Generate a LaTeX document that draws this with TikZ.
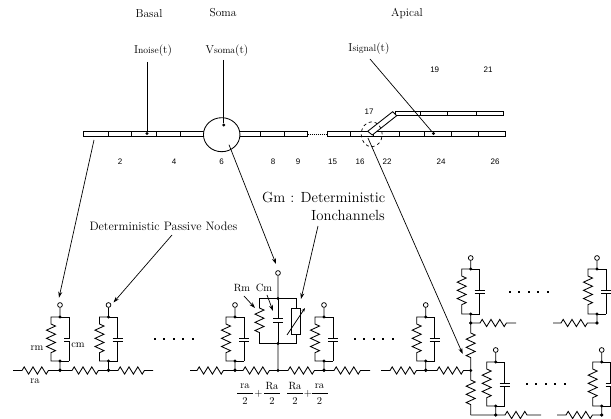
\documentclass[tikz,border=0pt]{standalone}
\usepackage{fontspec}
\newfontfamily\numfont{Liberation Sans}
\usetikzlibrary{decorations.pathmorphing,arrows.meta,shapes.geometric,calc}
\tikzset{
  wire/.style={line width=0.85pt,line join=miter},
  thin wire/.style={line width=0.7pt},
  ptr/.style={line width=0.7pt,-{Stealth[length=6pt,width=4pt]}},
  cablebox/.style={draw,line width=0.85pt,fill=white},
  lbl/.style={inner sep=0pt,font=\fontsize{11.5}{12}\selectfont},
  smlbl/.style={inner sep=0pt,font=\fontsize{10.5}{12}\selectfont},
  midlbl/.style={inner sep=0pt,font=\fontsize{12.2}{14}\selectfont},
  biglbl/.style={inner sep=0pt,font=\fontsize{14.7}{16}\selectfont},
  num/.style={inner sep=0pt,font=\numfont\fontsize{8}{9}\selectfont},
  jdot/.style={circle,fill=black,inner sep=0pt,minimum size=3.2pt},
  term/.style={circle,draw,fill=white,line width=0.75pt,inner sep=0pt,minimum size=4.8pt},
  zh/.style={decoration={zigzag,segment length=8.8pt,amplitude=3.6pt}},
  zv/.style={decoration={zigzag,segment length=8.2pt,amplitude=4.5pt}},
}
% horizontal rail resistor: from (x1,y) through zigzag x2..x3 to (x4,y)
\newcommand{\hres}[6]{%
  \coordinate (#1a) at (#2,#6); \coordinate (#1b) at (#3,#6);
  \coordinate (#1c) at (#4,#6); \coordinate (#1d) at (#5,#6);
  \draw[wire] (#1a) -- (#1b) decorate[zh]{-- (#1c)} -- (#1d);}
% RC unit: name, centre x, terminal y, top y, bottom y
\newcommand{\rcunit}[5]{%
  \coordinate (#1tp) at (#2,#4); \coordinate (#1bt) at (#2,#5+9);
  \coordinate (#1bb) at (#2,#5);
  \node[term] (#1o) at (#2,#3) {};
  \draw[wire] (#1o) -- (#1tp) -- ++(-9,0) coordinate (#1l1) -- ++(0,7) coordinate (#1l2)
    decorate[zv]{-- ++(0,#5-#4-15) coordinate (#1l3)}
    -- (#2-9,#5) -- (#1bb) -- (#1bt);
  \draw[wire] (#1tp) -- ++(9,0) -- ++(0,#5/2-#4/2-1) coordinate (#1c1);
  \draw[wire] (#2+9,#5) -- (#1bb);
  \draw[wire] (#2+9,#5) -- ++(0,-#5/2+#4/2+2) coordinate (#1c2);
  \draw[wire] ($(#1c1)+(-5,0)$) -- ($(#1c1)+(5,0)$);
  \draw[wire] ($(#1c2)+(-5,0)$) -- ($(#1c2)+(5,0)$);
  \node[jdot] at (#1tp) {}; \node[jdot] at (#1bb) {}; \node[jdot] at (#1bt) {};
}
\begin{document}
\begin{tikzpicture}[x=1pt,y=-1pt]
\useasboundingbox (0,0) rectangle (611,419);
% labels
\node[lbl] (basal) at (149,14) {Basal};
\node[lbl] (soma) at (223,13) {Soma};
\node[lbl] (apical) at (407,14) {Apical};
\node[lbl] (inoise) at (153,51) {I{\fontsize{9.5}{9}\selectfont noise}(t)};
\node[lbl] (vsoma) at (227,51) {V{\fontsize{9.5}{9}\selectfont soma}(t)};
\node[lbl] (isignal) at (369,49) {I{\fontsize{9.5}{9}\selectfont signal}(t)};
\foreach \n/\t/\x/\y in {n2/2/120/162,n4/4/174/162,n6/6/221.5/162,n8/8/273/162,n9/9/298/162,
  n15/15/332.5/162,n16/16/360/162,n22/22/387/162,n24/24/441/162,n26/26/495/162,
  n19/19/434.7/70,n21/21/488/70,n17/17/369/112}
  \node[num] (\n) at (\x,\y) {\t};
% morphology
\draw[cablebox] (83.5,131.5) rectangle (204,136);
\foreach \x in {108.7,131,156,180.7} \draw[wire] (\x,131.5) -- (\x,136);
\draw[cablebox] (238,131.5) rectangle (307.3,136);
\foreach \x in {260,284.3} \draw[wire] (\x,131.5) -- (\x,136);
\node[draw,ellipse,line width=0.85pt,fill=white,minimum width=36.5pt,minimum height=34pt,inner sep=0pt] (body) at (221.7,134.7) {};
\coordinate (da) at (307.5,134); \coordinate (db) at (327,134);
\draw[line width=0.5pt,dash pattern=on 1pt off 1pt] (da) -- (db);
\draw[cablebox] (327.3,131.5) rectangle (505.7,136);
\foreach \x in {350,373.3,399.3,424.3,451.3,478.3} \draw[wire] (\x,131.5) -- (\x,136);
\draw[cablebox] (395,111.7) rectangle (503.3,115.7);
\foreach \x in {420,447,476.3} \draw[wire] (\x,111.7) -- (\x,115.7);
\draw[cablebox] (367.7,131.3) -- (392.7,111.7) -- (396.7,115.7) -- (372.3,135) -- cycle;
\node[draw,ellipse,line width=0.7pt,dashed,minimum width=21pt,minimum height=25pt,inner sep=0pt] (dash) at (371.7,134.3) {};
% probes
\coordinate (inA) at (147,62); \node[jdot] (inB) at (147,133.5) {};
\draw[wire] (inA) -- (inB);
\coordinate (vsA) at (223.7,60); \node[jdot] (vsB) at (223.7,125) {};
\draw[wire] (vsA) -- (vsB);
\coordinate (isA) at (370,59); \node[jdot] (isB) at (433.5,133.5) {};
\draw[thin wire] (isA) -- (isB);
% texts lower
\node[midlbl] (dpn) at (163.5,226) {Deterministic Passive Nodes};
\node[biglbl,anchor=west] (gm) at (262,197) {Gm : Deterministic};
\node[biglbl,anchor=west] (ion) at (311,215.5) {Ionchannels};
\node[smlbl] (rm) at (37,348) {rm};
\node[smlbl] (ra) at (35,381) {ra};
\node[smlbl] (Rm) at (242,288) {Rm};
\node[smlbl] (Cm) at (264,288) {Cm};
% frac
\foreach \n/\t/\x in {f1/ra/245,f2/Ra/272,f3/Ra/295,f4/ra/319.5}{
  \node[smlbl] (\n t) at (\x,386) {\t};
  \node[smlbl] (\n b) at (\x,401.5) {2};
  \coordinate (\n l) at (\x-8,393.5); \coordinate (\n r) at (\x+8,393.5);
  \draw[line width=0.5pt] (\n l) -- (\n r);
}
\node[smlbl] (pa) at (258.5,393.5) {+};
\node[smlbl] (pb) at (308,393.5) {+};
% units
\rcunit{u1}{60}{305}{317}{361}
\rcunit{u2}{108.5}{305}{317}{361}
\rcunit{u3}{235}{305}{317}{361}
\rcunit{u4}{324}{305}{317}{361}
\rcunit{u5}{425.7}{305}{317}{361}
\rcunit{u6}{470.7}{258}{269}{314}
\rcunit{u7}{597}{258}{269}{314}
\rcunit{u8}{495.7}{350}{362}{406}
\rcunit{u9}{601.7}{350}{362}{406}
\fill[white] (70,334) rectangle (76,344);
\node[smlbl] (cm) at (78,345) {cm};
% rails
\hres{r1}{13}{22}{50}{60}{370.5}
\hres{r2}{60}{72}{100}{108.5}{370.5}
\hres{r3}{108.5}{118}{145}{153}{370.5}
\hres{r4}{190}{197}{226}{235}{370.5}
\hres{r5}{235}{243}{270}{278}{370.5}
\hres{r6}{278}{288}{316}{324}{370.5}
\hres{r7}{324}{334}{362}{370}{370.5}
\hres{r8}{381}{390}{418}{425.7}{370.5}
\hres{r9}{425.7}{437}{465}{470.7}{370.5}
\hres{r10}{470.7}{480}{508}{516}{323}
\hres{r11}{553}{561}{590}{597}{323}
\hres{r12}{470.7}{505}{530}{541}{415}
\hres{r13}{557}{566}{594}{601.7}{415}
% soma compartment
\node[term] (so) at (278,273) {};
\coordinate (st) at (278,298.5); \coordinate (sb) at (278,343.5); \coordinate (sr) at (278,370.5);
\draw[wire] (so) -- (st) -- (259.5,298.5) -- (259.5,308)
  decorate[zv]{-- (259.5,336)} -- (259.5,343.5) -- (sb) -- (sr);
\draw[wire] (st) -- (278,318.5);
\draw[wire] (273,318.5) -- (283,318.5);
\draw[wire] (273,322) -- (283,322);
\draw[wire] (278,322) -- (sb);
\draw[wire] (st) -- (296,298.5) -- (296,308);
\draw[wire] (sb) -- (296,343.5) -- (296,334);
\node[draw,line width=0.85pt,minimum width=9.5pt,minimum height=26pt,inner sep=0pt] (vr) at (296,321) {};
\draw[line width=0.75pt,-{Stealth[length=4pt,width=3pt]}] (287,335) -- (305,308);
\foreach \p in {st,sb,sr} \node[jdot] at (\p) {};
% junction branch
\coordinate (j0) at (470.7,323); \coordinate (j1) at (470.7,333); \coordinate (j2) at (470.7,361);
\coordinate (j3) at (470.7,370.5); \coordinate (j4) at (470.7,380); \coordinate (j5) at (470.7,406); \coordinate (j6) at (470.7,415);
\draw[wire] (j0) -- (j1) decorate[zv]{-- (j2)} -- (j3) -- (j4)
  decorate[zv]{-- (j5)} -- (j6);
\foreach \p in {j0,j3} \node[jdot] at (\p) {};
\foreach \x in {495.7,601.7} \node[jdot] at (\x,415) {};
\foreach \x in {60,108.5,235,324,425.7} \node[jdot] at (\x,370.5) {};
\node[jdot] at (597,323) {};
% dots
\foreach \xa/\ya in {155/339,355/339,510/292,527/384}
  \foreach \i in {0,...,4} \fill (\xa+\i*9.4-1,\ya-1) rectangle (\xa+\i*9.4+1,\ya+1);
% pointers
\coordinate (p1a) at (94,140); \coordinate (p1b) at (59,297.7); \draw[ptr] (p1a) -- (p1b);
\coordinate (p2a) at (172,235); \coordinate (p2b) at (113.5,302.5); \draw[ptr] (p2a) -- (p2b);
\coordinate (p3a) at (229,144.7); \coordinate (p3b) at (276,264); \draw[ptr] (p3a) -- (p3b);
\coordinate (p4a) at (368,138); \coordinate (p4b) at (462.7,354); \draw[ptr] (p4a) -- (p4b);
\coordinate (p5a) at (318,226); \coordinate (p5b) at (301,299); \draw[ptr] (p5a) -- (p5b);
\coordinate (p6a) at (244,296); \coordinate (p6b) at (255,308); \draw[ptr] (p6a) -- (p6b);
\coordinate (p7a) at (267,295); \coordinate (p7b) at (273,311); \draw[ptr] (p7a) -- (p7b);
\end{tikzpicture}
\end{document}
